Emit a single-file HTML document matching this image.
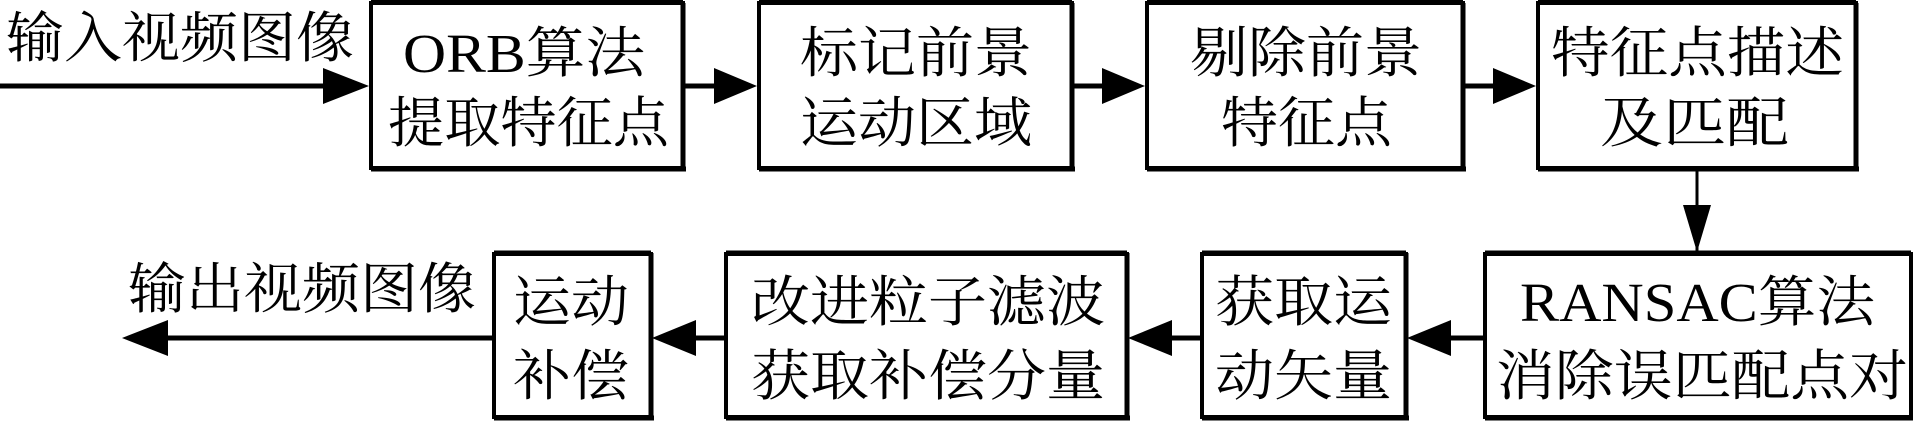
<!DOCTYPE html>
<html><head><meta charset="utf-8"><style>
html,body{margin:0;padding:0;background:#fff;}
svg{display:block}
text{font-family:"Liberation Serif","Noto Serif CJK SC","Noto Sans CJK SC",serif;font-size:55px;fill:#000;}
</style></head><body>
<svg width="1914" height="424" viewBox="0 0 1914 424" xmlns="http://www.w3.org/2000/svg">
<g fill="none" stroke="#000" stroke-width="4">
<rect x="371" y="3" width="312" height="165"/>
<rect x="759" y="3" width="313" height="165"/>
<rect x="1147" y="3" width="316" height="165"/>
<rect x="1538" y="3" width="318" height="165"/>
<rect x="1485" y="254" width="426" height="163"/>
<rect x="1202" y="254" width="204" height="163"/>
<rect x="726" y="254" width="401" height="163"/>
<rect x="494" y="254" width="157" height="163"/>
</g>
<g stroke="#000" stroke-width="5">
<line x1="683" y1="3" x2="683" y2="171"/><line x1="371" y1="169" x2="686" y2="169"/>
<line x1="1072" y1="3" x2="1072" y2="171"/><line x1="759" y1="169" x2="1075" y2="169"/>
<line x1="1463" y1="3" x2="1463" y2="171"/><line x1="1147" y1="169" x2="1466" y2="169"/>
<line x1="1856" y1="3" x2="1856" y2="171"/><line x1="1538" y1="169" x2="1859" y2="169"/>
<line x1="371" y1="2" x2="683" y2="2"/><line x1="759" y1="2" x2="1072" y2="2"/><line x1="1147" y1="2" x2="1463" y2="2"/><line x1="1538" y1="2" x2="1856" y2="2"/>
<line x1="1485" y1="253" x2="1911" y2="253"/><line x1="1202" y1="253" x2="1406" y2="253"/><line x1="726" y1="253" x2="1127" y2="253"/><line x1="494" y1="253" x2="651" y2="253"/>
<line x1="1406" y1="253" x2="1406" y2="419"/><line x1="1127" y1="253" x2="1127" y2="419"/><line x1="651" y1="253" x2="651" y2="419"/>
<line x1="1202" y1="418" x2="1409" y2="418"/><line x1="726" y1="418" x2="1130" y2="418"/><line x1="494" y1="418" x2="654" y2="418"/><line x1="1485" y1="418" x2="1913" y2="418"/>
</g>
<g stroke="#000" stroke-width="5">
<line x1="0" y1="86" x2="326" y2="86"/>
<line x1="685" y1="86" x2="718" y2="86"/>
<line x1="1074" y1="86" x2="1106" y2="86"/>
<line x1="1465" y1="86" x2="1497" y2="86"/>
<line x1="1483" y1="338" x2="1447" y2="338"/>
<line x1="1200" y1="338" x2="1168" y2="338"/>
<line x1="724" y1="338" x2="692" y2="338"/>
<line x1="492" y1="338" x2="160" y2="338"/>
</g>
<line x1="1697" y1="170" x2="1697" y2="252" stroke="#000" stroke-width="3"/>
<g fill="#000">
<path d="M323,68 L369,86 L323,104 z"/>
<path d="M714,68 L757,86 L714,104 z"/>
<path d="M1102,68 L1145,86 L1102,104 z"/>
<path d="M1493,68 L1536,86 L1493,104 z"/>
<path d="M1683,205 L1711,205 L1697,252 z"/>
<path d="M1451,320 L1407,338 L1451,356 z"/>
<path d="M1172,320 L1128,338 L1172,356 z"/>
<path d="M696,320 L652,338 L696,356 z"/>
<path d="M168,320 L122,338 L168,356 z"/>
</g>
<g>
<text x="6" y="57" textLength="348" lengthAdjust="spacingAndGlyphs">输入视频图像</text>
<text x="403" y="72" textLength="242" lengthAdjust="spacingAndGlyphs">ORB算法</text>
<text x="388" y="142" textLength="281" lengthAdjust="spacingAndGlyphs">提取特征点</text>
<text x="800" y="72" textLength="232" lengthAdjust="spacingAndGlyphs">标记前景</text>
<text x="800" y="142" textLength="232" lengthAdjust="spacingAndGlyphs">运动区域</text>
<text x="1190" y="72" textLength="232" lengthAdjust="spacingAndGlyphs">剔除前景</text>
<text x="1221" y="142" textLength="171" lengthAdjust="spacingAndGlyphs">特征点</text>
<text x="1551" y="72" textLength="293" lengthAdjust="spacingAndGlyphs">特征点描述</text>
<text x="1600" y="142" textLength="189" lengthAdjust="spacingAndGlyphs">及匹配</text>
<text x="1520" y="321" textLength="355" lengthAdjust="spacingAndGlyphs">RANSAC算法</text>
<text x="1496" y="395" textLength="412" lengthAdjust="spacingAndGlyphs">消除误匹配点对</text>
<text x="1215" y="321" textLength="177" lengthAdjust="spacingAndGlyphs">获取运</text>
<text x="1215" y="395" textLength="177" lengthAdjust="spacingAndGlyphs">动矢量</text>
<text x="751" y="321" textLength="354" lengthAdjust="spacingAndGlyphs">改进粒子滤波</text>
<text x="751" y="395" textLength="354" lengthAdjust="spacingAndGlyphs">获取补偿分量</text>
<text x="513" y="321" textLength="116" lengthAdjust="spacingAndGlyphs">运动</text>
<text x="513" y="395" textLength="116" lengthAdjust="spacingAndGlyphs">补偿</text>
<text x="128" y="308" textLength="348" lengthAdjust="spacingAndGlyphs">输出视频图像</text>
</g>
</svg>
</body></html>
